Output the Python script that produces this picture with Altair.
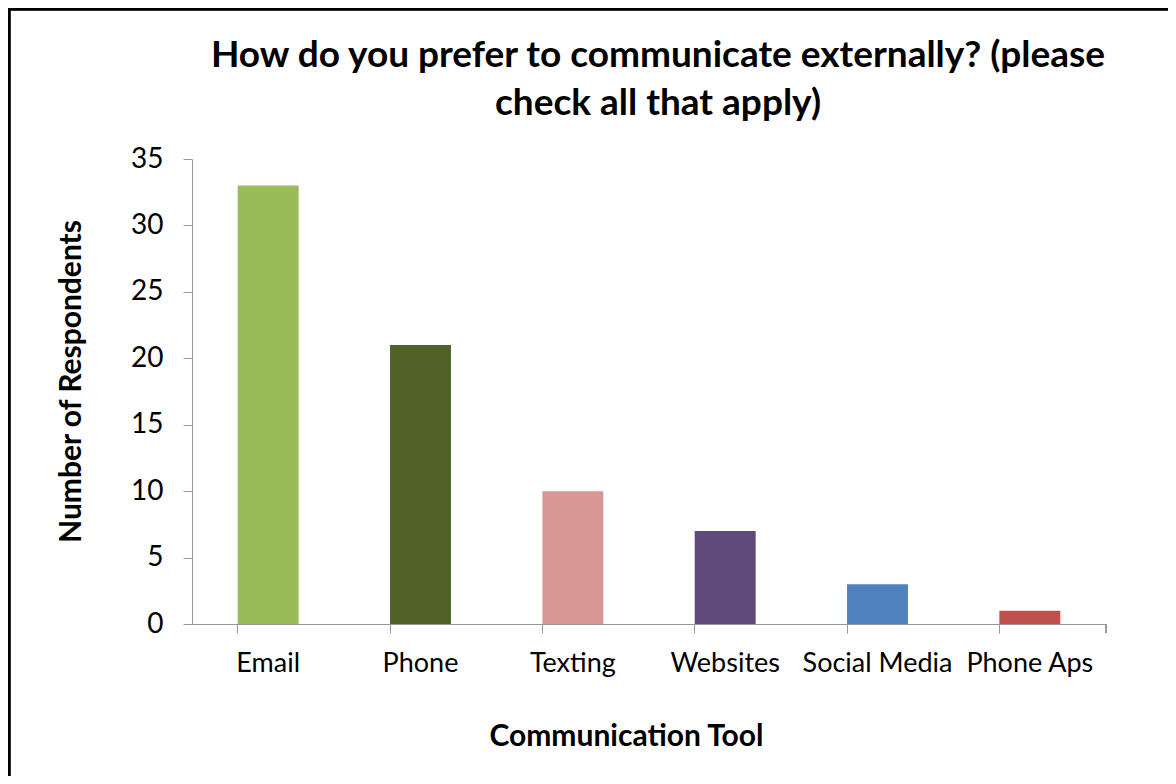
import altair as alt
import pandas as pd

categories = ["Email", "Phone", "Texting", "Websites", "Social Media", "Phone Aps"]
values = [33, 21, 10, 7, 3, 1]
colors = ["#9BBB59", "#4F6228", "#D99694", "#604A7B", "#4F81BD", "#C0504D"]

df = pd.DataFrame({"tool": categories, "count": values, "color": colors})

FONT = "Lato"
W, H = 914, 465

bars = alt.Chart(df).mark_bar().encode(
    x=alt.X("tool:N", sort=categories,
            scale=alt.Scale(paddingInner=0.6, paddingOuter=0.3),
            axis=alt.Axis(title="Communication Tool", labelAngle=0, bandPosition=0,
                          domainColor="#999999", tickColor="#999999", tickSize=9,
                          labelFontSize=27, labelFont=FONT, labelColor="#000000",
                          labelPadding=17, titleFontSize=30, titleFont=FONT,
                          titleFontWeight="bold", titleColor="#000000", titlePadding=45,
                          titleX=434)),
    y=alt.Y("count:Q", scale=alt.Scale(domain=[0, 35], nice=False),
            axis=alt.Axis(title="Number of Respondents", values=list(range(0, 36, 5)),
                          grid=False, domainColor="#999999", tickColor="#999999",
                          tickSize=9, labelFontSize=28, labelFont=FONT,
                          labelColor="#000000", labelPadding=20, titleFontSize=30,
                          titleFont=FONT, titleFontWeight="bold", titleColor="#000000",
                          titlePadding=44, titleY=222)),
    color=alt.Color("color:N", scale=None),
)

end_tick = alt.Chart(df).mark_rule(color="#999999").encode(
    x=alt.value(W), y=alt.value(H), y2=alt.value(H + 9)
)

frame = alt.Chart(df).mark_rect(fill=None, stroke="#000000", strokeWidth=2.5).encode(
    x=alt.value(-183), x2=alt.value(1200), y=alt.value(-150), y2=alt.value(800)
)

chart = alt.layer(frame, bars, end_tick).properties(
    width=W, height=H,
    background="white",
    title=alt.TitleParams(
        ["How do you prefer to communicate externally? (please", "check all that apply)"],
        fontSize=37, font=FONT, fontWeight="bold", color="#000000",
        anchor="middle", dx=9, offset=-115, lineHeight=48),
    autosize=alt.AutoSizeParams(type="none"),
    padding={"left": 184, "top": 151, "right": 62, "bottom": 152},
).configure_view(stroke=None)

chart.save("out.html", embed_options={"renderer": "svg", "actions": False})
